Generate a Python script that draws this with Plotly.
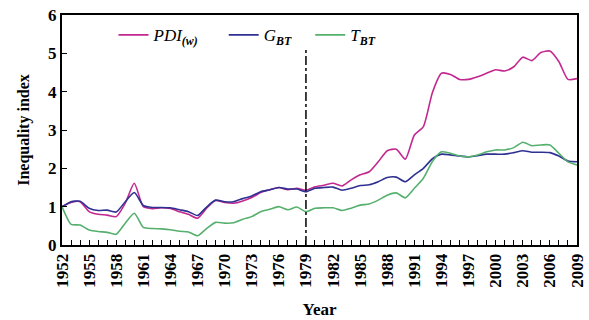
import plotly.graph_objects as go

years = list(range(1952, 2010))
pdi = [1.00, 1.11, 1.13, 0.87, 0.80, 0.78, 0.74, 1.09, 1.61, 1.00,
       0.95, 0.97, 0.95, 0.87, 0.80, 0.70, 0.96, 1.16, 1.11, 1.09,
       1.15, 1.24, 1.37, 1.44, 1.50, 1.44, 1.48, 1.43, 1.52, 1.56,
       1.61, 1.54, 1.70, 1.83, 1.91, 2.17, 2.46, 2.50, 2.24, 2.87,
       3.09, 3.98, 4.48, 4.45, 4.32, 4.32, 4.39, 4.48, 4.57, 4.54,
       4.65, 4.90, 4.81, 5.02, 5.06, 4.78, 4.32, 4.34]
g_bt = [1.00, 1.13, 1.14, 0.96, 0.90, 0.91, 0.86, 1.13, 1.37, 1.03,
        0.98, 0.98, 0.97, 0.92, 0.87, 0.77, 0.99, 1.17, 1.13, 1.13,
        1.21, 1.28, 1.39, 1.44, 1.50, 1.46, 1.46, 1.39, 1.48, 1.50,
        1.51, 1.43, 1.48, 1.55, 1.57, 1.65, 1.76, 1.77, 1.65, 1.83,
        2.00, 2.25, 2.37, 2.35, 2.32, 2.30, 2.33, 2.37, 2.37, 2.37,
        2.41, 2.46, 2.42, 2.42, 2.41, 2.32, 2.19, 2.17]
t_bt = [1.00, 0.54, 0.52, 0.39, 0.35, 0.33, 0.28, 0.57, 0.83, 0.46,
        0.43, 0.42, 0.40, 0.36, 0.34, 0.24, 0.43, 0.59, 0.57, 0.58,
        0.67, 0.74, 0.87, 0.93, 1.00, 0.92, 0.99, 0.87, 0.96, 0.97,
        0.97, 0.90, 0.96, 1.04, 1.07, 1.17, 1.30, 1.36, 1.23, 1.48,
        1.74, 2.18, 2.43, 2.39, 2.32, 2.30, 2.35, 2.43, 2.48, 2.48,
        2.54, 2.68, 2.59, 2.61, 2.61, 2.39, 2.17, 2.09]
x_ticks = list(range(1952, 2010, 3))
y_ticks = [0, 1, 2, 3, 4, 5, 6]
split_year = 1979

FONT = "Liberation Serif"

fig = go.Figure()
fig.add_trace(go.Scatter(x=years, y=pdi, mode="lines", line=dict(color="#c2288f", width=1.6, shape="spline", smoothing=0.6),
                         name="<i>PDI</i><sub><b><i>(w)</i></b></sub>", legend="legend"))
fig.add_trace(go.Scatter(x=years, y=g_bt, mode="lines", line=dict(color="#2e3192", width=1.6, shape="spline", smoothing=0.6),
                         name="<i>G</i><sub><b><i>BT</i></b></sub>", legend="legend2"))
fig.add_trace(go.Scatter(x=years, y=t_bt, mode="lines", line=dict(color="#55b06e", width=1.6, shape="spline", smoothing=0.6),
                         name="<i>T</i><sub><b><i>BT</i></b></sub>", legend="legend3"))

fig.add_shape(type="line", x0=split_year, x1=split_year, y0=0, y1=5.15, xref="x", yref="y",
              line=dict(color="black", width=1.5, dash="dashdot"))

leg_common = dict(orientation="h", y=0.99, xanchor="left", yanchor="top",
                  bgcolor="rgba(0,0,0,0)", font=dict(size=17, family=FONT), itemwidth=30)

fig.update_layout(
    width=589, height=320,
    margin=dict(l=62, r=12, t=15, b=75, autoexpand=False),
    paper_bgcolor="white", plot_bgcolor="white",
    font=dict(family=FONT, color="black"),
    showlegend=True,
    legend=dict(x=0.100, **leg_common),
    legend2=dict(x=0.314, **leg_common),
    legend3=dict(x=0.482, **leg_common),
    xaxis=dict(range=[1952, 2009], tickvals=x_ticks, ticktext=[str(v) for v in x_ticks],
               tickangle=-90, ticks="inside", ticklen=5, tickwidth=1.2, tickcolor="black",
               minor=dict(dtick=1, tick0=1952, ticks="inside", ticklen=5, tickwidth=1.2, tickcolor="black"),
               showline=True, linecolor="black", linewidth=2, mirror=True, showgrid=False, zeroline=False,
               automargin=False,
               tickfont=dict(size=17, family=FONT, weight="bold"),
               title=dict(text="<b>Year</b>", font=dict(size=17, family=FONT), standoff=16)),
    yaxis=dict(range=[0, 6], tickvals=y_ticks, ticks="inside", ticklen=5, tickwidth=1.2, tickcolor="black",
               showline=True, linecolor="black", linewidth=2, mirror=True, showgrid=False, zeroline=False,
               automargin=False,
               tickfont=dict(size=17, family=FONT, weight="bold"),
               title=dict(text="<b>Inequality index</b>", font=dict(size=16, family=FONT), standoff=14)),
)

fig.write_html("out.html")
